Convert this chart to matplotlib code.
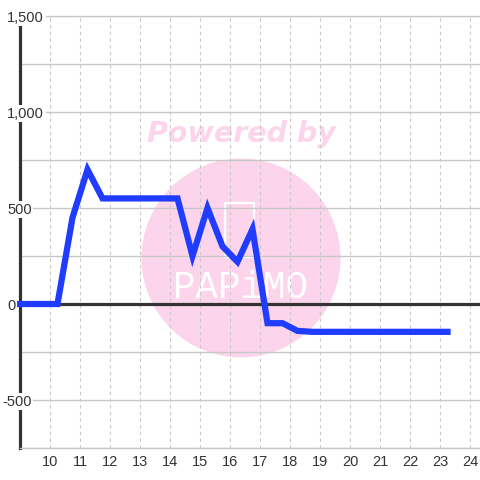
import matplotlib
matplotlib.use("Agg")
import matplotlib.pyplot as plt
import matplotlib.transforms as mtransforms
from matplotlib.patches import Ellipse, Rectangle

# series values (hour of day -> value)
hours = [9.0, 9.25, 9.75, 10.25, 10.75, 11.25, 11.75, 12.25, 12.75, 13.25, 13.75,
         14.25, 14.75, 15.25, 15.75, 16.25, 16.75, 17.25, 17.75, 18.25, 18.75,
         19.25, 19.75, 20.25, 20.75, 21.25, 21.75, 22.25, 22.75, 23.25]
values = [0, 0, 0, 0, 450, 700, 550, 550, 550, 550, 550,
          550, 250, 500, 300, 220, 390, -100, -100, -140, -145,
          -145, -145, -145, -145, -145, -145, -145, -145, -145]

x_ticks = list(range(10, 25))
y_label_vals = [1500, 1000, 500, 0, -500]
y_grid_vals = list(range(-750, 1501, 250))

plt.rcParams['font.family'] = ['Liberation Sans', 'DejaVu Sans']

W = 480
fig = plt.figure(figsize=(4.8, 4.8), dpi=100)
fig.patch.set_facecolor('white')
ax = fig.add_axes([20 / W, 32 / W, 460 / W, 432 / W])
ax.set_xlim(9, 9 + 460 / 30)
ax.set_ylim(-750, 1500)

# watermark (behind the grid)
ax.add_patch(Ellipse((241 / W, 1 - 258 / W), 199 / W, 199 / W, transform=fig.transFigure,
                     facecolor='#fcd5ec', edgecolor='none', zorder=0.1))
ax.text(241 / W, 1 - 134 / W, 'Powered by', transform=fig.transFigure, ha='center', va='center',
        fontsize=20.5, fontweight='bold', fontstyle='italic', family='DejaVu Sans',
        color='#fcd5ec', zorder=0.2)
ax.text(240 / W, 1 - 288 / W, 'PAPiMO', transform=fig.transFigure, ha='center', va='center',
        fontsize=27, family='Liberation Mono', color='white', zorder=0.2)
ax.add_patch(Rectangle((225 / W, 1 - 257 / W), 29 / W, 54 / W, transform=fig.transFigure,
                       facecolor='none', edgecolor='white', linewidth=1.6, zorder=0.2))

ax.set_axisbelow(True)
ax.set_xticks(x_ticks)
ax.set_yticks(y_grid_vals)
ax.set_yticklabels([])
ax.tick_params(axis='both', length=0)
ax.tick_params(axis='x', labelsize=10.5, labelcolor='#333333', pad=5)
ax.xaxis.grid(True, color='#c8c8c8', linestyle=(0, (3, 3)), linewidth=0.8)
ax.yaxis.grid(True, color='#c8c8c8', linestyle='-', linewidth=1.0)

for side in ['top', 'bottom']:
    ax.spines[side].set_color('#c8c8c8')
    ax.spines[side].set_linewidth(1.0)
ax.spines['right'].set_visible(False)
ax.spines['left'].set_color('#333333')
ax.spines['left'].set_linewidth(2.3)

ax.axhline(0, color='#333333', linewidth=2.3, zorder=2)

ax.plot(hours, values, color='#1f3cff', linewidth=4.5, solid_capstyle='projecting',
        solid_joinstyle='miter', clip_on=False, zorder=3)

# y labels sit over the axis line with a white box
trans = mtransforms.blended_transform_factory(fig.transFigure, ax.transData)
for v in y_label_vals:
    x_px = 2 if v < 0 else 7
    ax.text(x_px / W, v, f"{v:,}", transform=trans, ha='left', va='center_baseline',
            fontsize=10.5, color='#333333', zorder=5, clip_on=False,
            bbox=dict(boxstyle='square,pad=0.12', fc='white', ec='none'))

fig.savefig('out.png', dpi=100, facecolor='white')
